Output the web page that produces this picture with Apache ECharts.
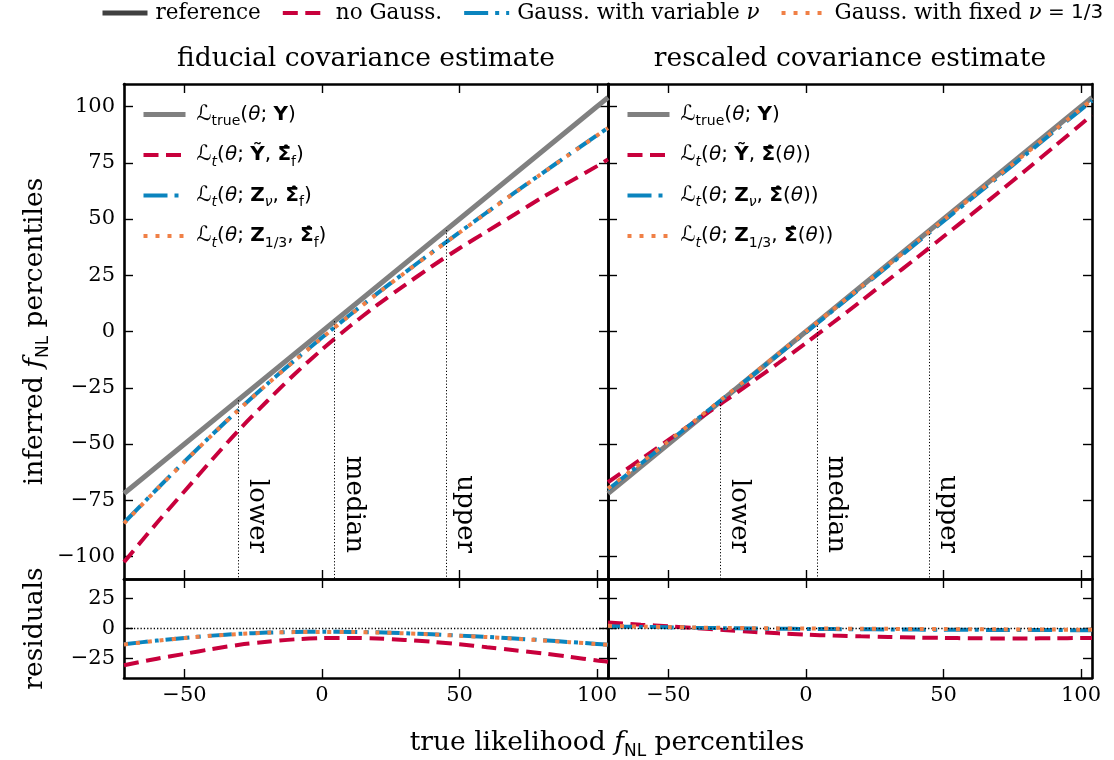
<!DOCTYPE html>
<html><head><meta charset="utf-8">
<script src="https://cdn.jsdelivr.net/npm/echarts@6/dist/echarts.min.js"></script>
<style>html,body{margin:0;padding:0;background:#fff}#c{width:1114px;height:760px}</style>
</head><body><div id="c"></div>
<script>
// ---------------- data ----------------
const xs = [-72,-60,-50,-40,-30,-20,-10,0,10,20,30,40,50,60,70,80,90,100,104];
const refVals = [-72,-60,-50,-40,-30,-20,-10,0,10,20,30,40,50,60,70,80,90,100,104];
// fiducial covariance estimate (left)
const fidNoGauss = [-102.5,-85,-71,-57,-43.5,-31,-19,-8,2.2,11.7,20.5,29,37,44.5,52,59.5,66.5,73.5,76.5];
const fidVarNu  = [-85,-70,-57.8,-45.9,-34.4,-23.4,-12.9,-2.7,7.2,16.8,26.1,35.2,44.1,53,61.7,70.3,78.8,87.2,90.5];
const fidFixNu  = [-85.3,-70.1,-57.9,-46,-34.5,-23.5,-13,-2.8,7.1,16.7,26,35.1,44,52.9,61.6,70.2,78.7,87.1,90.4];
const fidResNoGauss = [-30.5,-25,-21,-17,-13.5,-11,-9,-8,-7.8,-8.3,-9.5,-11,-13,-15.5,-18,-20.5,-23.5,-26.5,-27.5];
const fidResVarNu  = [-13,-10,-7.8,-5.9,-4.4,-3.4,-2.9,-2.7,-2.8,-3.2,-3.9,-4.8,-5.9,-7,-8.3,-9.7,-11.2,-12.8,-13.5];
const fidResFixNu  = [-13.3,-10.1,-7.9,-6,-4.5,-3.5,-3,-2.8,-2.9,-3.3,-4,-4.9,-6,-7.1,-8.4,-9.8,-11.3,-12.9,-13.6];
// rescaled covariance estimate (right)
const resNoGauss = [-67,-56.8,-48.2,-39.7,-31.3,-22.7,-14,-5.1,4.1,13.5,23,32.5,42.2,51.9,61.8,71.8,81.9,92.1,96.2];
const resVarNu  = [-70.2,-58.7,-49,-39.4,-29.7,-20,-10.2,-0.4,9.5,19.4,29.2,39.1,49,58.9,68.8,78.7,88.7,98.6,102.6];
const resFixNu  = [-69.8,-58.4,-48.8,-39.2,-29.5,-19.7,-9.9,0,9.9,19.8,29.7,39.6,49.5,59.4,69.3,79.2,89.1,99,103];
const resResNoGauss = [5,3.2,1.8,0.3,-1.3,-2.7,-4,-5.1,-5.9,-6.5,-7,-7.5,-7.8,-8.1,-8.2,-8.2,-8.1,-7.9,-7.8];
const resResVarNu  = [1.8,1.3,1,0.6,0.3,0,-0.2,-0.4,-0.5,-0.6,-0.8,-0.9,-1,-1.1,-1.2,-1.3,-1.3,-1.4,-1.4];
const resResFixNu  = [2.2,1.6,1.2,0.8,0.5,0.3,0.1,0,-0.1,-0.2,-0.3,-0.4,-0.5,-0.6,-0.7,-0.8,-0.9,-1,-1];
// percentile markers
const pctNames = ['lower','median','upper'];
const pctLeft = [-30.5, 4.6, 45.1];
const pctRight = [-31.2, 4.0, 44.8];
// ticks
const xTicks = [-50,0,50,100];
const yTicksMain = [-100,-75,-50,-25,0,25,50,75,100];
const yTicksRes = [-25,0,25];
const xRange = [-72, 104];
const yRangeMain = [-110, 110];
const yRangeRes = [-41, 41];
// ---------------- styles ----------------
const SERIF = 'DejaVu Serif', SANS = 'DejaVu Sans';
const C_REF = '#808080', C_REF_LEG = '#404040', C_RED = '#c8003c', C_BLUE = '#0a84be', C_ORANGE = '#f08046';
const DASH = [15, 7.5], DASHDOT = [24, 7, 4, 7], DOT = [4, 8];
const fmtNum = v => v < 0 ? '\u2212' + (-v) : String(v);
const BIG = 26.5;

const GL = [124, 608], GW = 484, TOP = 84, TH = 495, BTOP = 579, BH = 99;
const grid = [
  {left: GL[0], top: TOP, width: GW, height: TH},
  {left: GL[1], top: TOP, width: GW, height: TH},
  {left: GL[0], top: BTOP, width: GW, height: BH},
  {left: GL[1], top: BTOP, width: GW, height: BH}
];
const axLine = {show: true, onZero: false, lineStyle: {color: '#000', width: 2.6}};
const nameRich = {
  n: {fontFamily: SERIF, fontSize: BIG, fontWeight: 'normal', lineHeight: 34, verticalAlign: 'middle', color: '#000'},
  i: {fontFamily: SERIF, fontStyle: 'italic', fontWeight: 'normal', fontSize: BIG, lineHeight: 34, verticalAlign: 'middle', color: '#000'},
  s: {fontFamily: SANS, fontSize: 17, fontWeight: 'normal', lineHeight: 17, verticalAlign: 'bottom', color: '#000'}
};
function xAx(g, pos, labels) {
  return {type: 'value', gridIndex: g, position: pos, min: xRange[0], max: xRange[1],
    axisLine: axLine, splitLine: {show: false},
    axisTick: {show: true, inside: true, length: 9, customValues: xTicks, lineStyle: {color: '#000', width: 1.4}},
    axisLabel: {show: labels, customValues: xTicks, formatter: fmtNum, margin: 7,
      fontFamily: SERIF, fontSize: 21, color: '#000'}};
}
function yAx(g, pos, labels, range, ticks, name) {
  const a = {type: 'value', gridIndex: g, position: pos, min: range[0], max: range[1],
    axisLine: axLine, splitLine: {show: false},
    axisTick: {show: true, inside: true, length: 9, customValues: ticks, lineStyle: {color: '#000', width: 1.4}},
    axisLabel: {show: labels, customValues: ticks, formatter: fmtNum, margin: 9,
      fontFamily: SERIF, fontSize: 21, color: '#000'}};
  if (name) {
    Object.assign(a, {name: name, nameLocation: 'middle', nameGap: 72,
      nameTextStyle: {fontFamily: SERIF, fontSize: BIG, color: '#000', rich: nameRich}});
  }
  return a;
}
const xAxis = [xAx(0,'bottom',false), xAx(0,'top',false), xAx(1,'bottom',false), xAx(1,'top',false),
               xAx(2,'bottom',true), xAx(2,'top',false), xAx(3,'bottom',true), xAx(3,'top',false)];
const yAxis = [yAx(0,'left',true,yRangeMain,yTicksMain,'{n|inferred }{i|f}{s|NL}{n| percentiles}'),
               yAx(0,'right',false,yRangeMain,yTicksMain), yAx(1,'left',false,yRangeMain,yTicksMain), yAx(1,'right',false,yRangeMain,yTicksMain),
               yAx(2,'left',true,yRangeRes,yTicksRes,'{n|residuals}'), yAx(2,'right',false,yRangeRes,yTicksRes),
               yAx(3,'left',false,yRangeRes,yTicksRes), yAx(3,'right',false,yRangeRes,yTicksRes)];

const pair = arr => xs.map((x, i) => [x, arr[i]]);
function line(name, ax, data, color, width, type, z) {
  return {type: 'line', name: name, xAxisIndex: ax, yAxisIndex: ax, data: pair(data), symbol: 'none',
    smooth: 0.3, silent: true, z: z, lineStyle: {color: color, width: width, type: type, cap: 'butt'}, itemStyle: {color: color}};
}
function pctMarks(pcts) {
  return {symbol: 'none', silent: true, animation: false,
    lineStyle: {color: '#000', width: 1, type: [1.2, 2]},
    label: {show: true, position: 'insideEndTop', formatter: p => p.name, fontFamily: SERIF, fontSize: 26,
      color: '#000', distance: 6, padding: [0, 20, 0, 0]},
    data: pcts.map((p, i) => [{name: pctNames[i], coord: [p, p]}, {coord: [p, yRangeMain[0]]}])};
}
const zeroMark = {symbol: 'none', silent: true, animation: false, label: {show: false},
  lineStyle: {color: '#000', width: 1.3, type: [1.3, 2]}, data: [{yAxis: 0}]};

const series = [];
// top-left
const sRefL = line('Ltrue', 0, refVals, C_REF, 5, 'solid', 2); sRefL.markLine = pctMarks(pctLeft); series.push(sRefL);
series.push(line('Lf_no', 0, fidNoGauss, C_RED, 4, DASH, 3));
series.push(line('Lf_var', 0, fidVarNu, C_BLUE, 4, DASHDOT, 4));
series.push(line('Lf_fix', 0, fidFixNu, C_ORANGE, 4, DOT, 5));
// top-right
const sRefR = line('Ltrue', 2, refVals, C_REF, 5, 'solid', 2); sRefR.markLine = pctMarks(pctRight); series.push(sRefR);
series.push(line('Lr_no', 2, resNoGauss, C_RED, 4, DASH, 3));
series.push(line('Lr_var', 2, resVarNu, C_BLUE, 4, DASHDOT, 4));
series.push(line('Lr_fix', 2, resFixNu, C_ORANGE, 4, DOT, 5));
// residuals
const rl = line('Lf_no', 4, fidResNoGauss, C_RED, 4, DASH, 3); rl.markLine = zeroMark; series.push(rl);
series.push(line('Lf_var', 4, fidResVarNu, C_BLUE, 4, DASHDOT, 4));
series.push(line('Lf_fix', 4, fidResFixNu, C_ORANGE, 4, DOT, 5));
const rr = line('Lr_no', 6, resResNoGauss, C_RED, 4, DASH, 3); rr.markLine = zeroMark; series.push(rr);
series.push(line('Lr_var', 6, resResVarNu, C_BLUE, 4, DASHDOT, 4));
series.push(line('Lr_fix', 6, resResFixNu, C_ORANGE, 4, DOT, 5));
// top legend entries (no data)
const topNames = ['reference', 'no Gauss.', 'Gauss. with variable \u03bd', 'Gauss. with fixed \u03bd = 1/3'];
[[C_REF_LEG, 5, 'solid'], [C_RED, 4, DASH], [C_BLUE, 4, DASHDOT], [C_ORANGE, 4, DOT]].forEach((s, i) => {
  series.push({type: 'line', name: topNames[i], xAxisIndex: 0, yAxisIndex: 0, data: [], symbol: 'none',
    lineStyle: {color: s[0], width: s[1], type: s[2], cap: 'butt'}, itemStyle: {color: s[0]}});
});

const topFmt = {
  'reference': '{n|reference}',
  'no Gauss.': '{n|no Gauss.}',
  'Gauss. with variable \u03bd': '{n|Gauss. with variable }{i|\u03bd}',
  'Gauss. with fixed \u03bd = 1/3': '{n|Gauss. with fixed }{i|\u03bd}{m| = 1/3}'
};
const L = '{L|\u2112}';
const SIG = '{b|\u03a3\u0302}';
const innerFmt = {
  'Ltrue': L + '{sub|true}{n|(}{i|\u03b8}{n|; }{b|Y}{n|)}',
  'Lf_no': L + '{isub|t}{n|(}{i|\u03b8}{n|; }{b|\u1ef8}{n|, }' + SIG + '{sub|f}{n|)}',
  'Lf_var': L + '{isub|t}{n|(}{i|\u03b8}{n|; }{b|Z}{isub|\u03bd}{n|, }' + SIG + '{sub|f}{n|)}',
  'Lf_fix': L + '{isub|t}{n|(}{i|\u03b8}{n|; }{b|Z}{sub|1/3}{n|, }' + SIG + '{sub|f}{n|)}',
  'Lr_no': L + '{isub|t}{n|(}{i|\u03b8}{n|; }{b|\u1ef8}{n|, }' + SIG + '{n|(}{i|\u03b8}{n|))}',
  'Lr_var': L + '{isub|t}{n|(}{i|\u03b8}{n|; }{b|Z}{isub|\u03bd}{n|, }' + SIG + '{n|(}{i|\u03b8}{n|))}',
  'Lr_fix': L + '{isub|t}{n|(}{i|\u03b8}{n|; }{b|Z}{sub|1/3}{n|, }' + SIG + '{n|(}{i|\u03b8}{n|))}'
};
const innerRich = {
  n: {fontFamily: SANS, fontSize: 20, lineHeight: 28, verticalAlign: 'middle', color: '#000'},
  L: {fontFamily: SANS, fontSize: 21, lineHeight: 28, verticalAlign: 'middle', color: '#000'},
  i: {fontFamily: SANS, fontStyle: 'italic', fontSize: 20, lineHeight: 28, verticalAlign: 'middle', color: '#000'},
  b: {fontFamily: SANS, fontWeight: 'bold', fontSize: 20, lineHeight: 28, verticalAlign: 'middle', color: '#000'},
  sub: {fontFamily: SANS, fontSize: 14, lineHeight: 15, verticalAlign: 'bottom', color: '#000'},
  isub: {fontFamily: SANS, fontStyle: 'italic', fontSize: 14, lineHeight: 15, verticalAlign: 'bottom', color: '#000'}
};
function innerLegend(left, names) {
  return {orient: 'vertical', left: left, top: 104, padding: 0, itemWidth: 42, itemHeight: 12, itemGap: 16,
    selectedMode: false, data: names, itemStyle: {opacity: 0}, lineStyle: {width: 'inherit'},
    formatter: n => innerFmt[n], textStyle: {padding: [0, 0, 0, 6], rich: innerRich}};
}
const option = {
  animation: false,
  backgroundColor: '#fff',
  grid: grid, xAxis: xAxis, yAxis: yAxis, series: series,
  title: [
    {text: 'fiducial covariance estimate', left: 366, top: 43, padding: 0, textAlign: 'center',
     textStyle: {fontFamily: SERIF, fontSize: BIG, fontWeight: 'normal', color: '#000', lineHeight: 32}},
    {text: 'rescaled covariance estimate', left: 850, top: 43, padding: 0, textAlign: 'center',
     textStyle: {fontFamily: SERIF, fontSize: BIG, fontWeight: 'normal', color: '#000', lineHeight: 32}},
    {text: '{n|true likelihood }{i|f}{s|NL}{n| percentiles}', left: 607, top: 726, padding: 0, textAlign: 'center',
     textStyle: {fontWeight: 'normal', rich: nameRich}}
  ],
  legend: [
    {left: 100, top: 2, width: 1014, padding: 0, itemWidth: 45, itemHeight: 12, itemGap: 20, selectedMode: false,
     data: topNames, itemStyle: {opacity: 0}, lineStyle: {width: 'inherit'},
     formatter: n => topFmt[n],
     textStyle: {padding: [0, 0, 0, 3], rich: {
       n: {fontFamily: SERIF, fontSize: 21.5, lineHeight: 26, color: '#000'},
       i: {fontFamily: SERIF, fontStyle: 'italic', fontSize: 21.5, lineHeight: 26, color: '#000'},
       m: {fontFamily: SANS, fontSize: 20, lineHeight: 26, color: '#000'}}}},
    innerLegend(141, ['Ltrue', 'Lf_no', 'Lf_var', 'Lf_fix']),
    innerLegend(625, ['Ltrue', 'Lr_no', 'Lr_var', 'Lr_fix'])
  ]
};
const chart = echarts.init(document.getElementById('c'), null, {renderer: 'canvas'});
chart.setOption(option);
</script></body></html>
